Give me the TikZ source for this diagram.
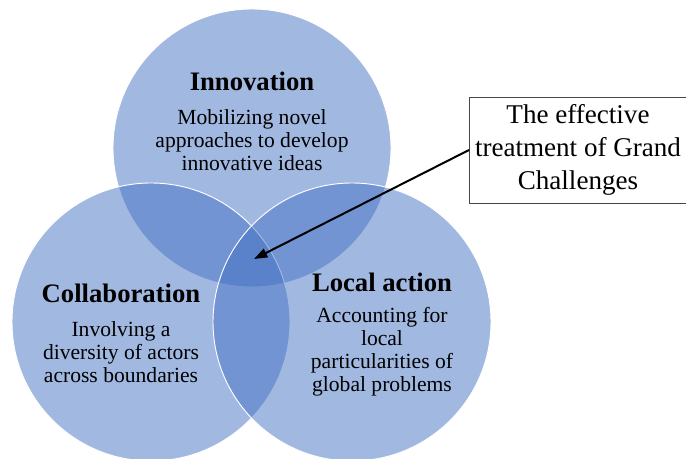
\documentclass[tikz,border=0pt]{standalone}
\usepackage{fontspec}
\setmainfont{Liberation Serif}
\usetikzlibrary{arrows.meta}
\definecolor{vblue}{RGB}{68,114,196}
\definecolor{boxgray}{RGB}{70,70,70}
\tikzset{
  venn/.style={fill=vblue, fill opacity=0.5, draw=white, line width=0.7pt},
  head/.style={inner sep=0pt, align=center, font=\bfseries\fontsize{20}{22}\selectfont},
  body/.style={inner sep=0pt, align=center, font=\fontsize{16.2}{17.2}\selectfont},
  callout/.style={draw=boxgray, line width=0.7pt, inner sep=0pt, align=center, minimum width=162.75pt, minimum height=79.5pt, font=\fontsize{20.3}{24.5}\selectfont},
  pointer/.style={-{Triangle[length=10pt,width=7pt]}, line width=1.5pt, black}
}
\begin{document}
\begin{tikzpicture}[x=0.75pt,y=-0.75pt]
\useasboundingbox (0,0) rectangle (686,459);
\clip (0,0) rectangle (686,459);
\fill[white] (0,0) rectangle (686,459);
\path[venn] (252,148) circle[radius=104.25pt];
\path[venn] (151,322) circle[radius=104.25pt];
\path[venn] (352,322) circle[radius=104.25pt];
\node[head] (innov) at (252,81) {Innovation};
\node[body] (innovtxt) at (252,140) {Mobilizing novel\\approaches to develop\\innovative ideas};
\node[head] (collab) at (121,293) {Collaboration};
\node[body] (collabtxt) at (121,352) {Involving a\\diversity of actors\\across boundaries};
\node[head] (local) at (382,282) {Local action};
\node[body] (localtxt) at (382,351.5) {Accounting for\\local\\particularities of\\global problems};
\node[callout, fill=white] (box) at (578,150) {The effective\\treatment of Grand\\Challenges};
\coordinate (tip) at (254,259);
\draw[pointer] (box.west) -- (tip);
\end{tikzpicture}
\end{document}
